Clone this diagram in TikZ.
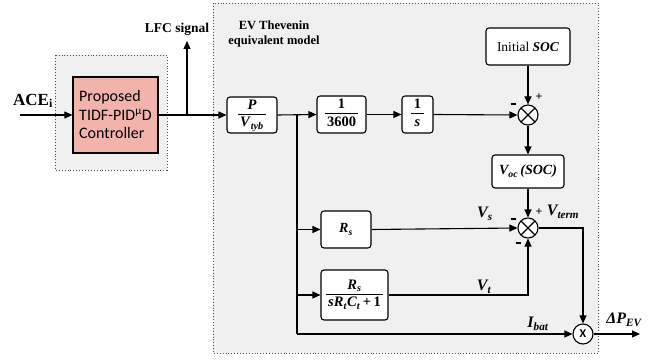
\documentclass[tikz,border=0pt]{standalone}
\usepackage{fontspec}
\setmainfont{Liberation Serif}
\newfontfamily\carlito{Carlito}
\usetikzlibrary{arrows.meta}
\definecolor{panel}{HTML}{F0F0F0}
\definecolor{pinkfill}{HTML}{F2B3AC}
\newcommand\fracbox[2]{\begin{tabular}{@{\,}c@{\,}}#1\\[0pt]\hline\rule{0pt}{12.5pt}#2\end{tabular}}
\newcommand\bi[1]{\textbf{\textit{#1}}}
\newcommand\minussign{\rule[0pt]{5pt}{1.4pt}}
\tikzset{
  blk/.style={draw, rounded corners=3pt, fill=white, line width=1.1pt, inner sep=1pt, align=center, font=\bfseries\fontsize{14.5}{15.5}\selectfont},
  sumc/.style={draw, circle, fill=white, line width=1.1pt, minimum size=20pt, inner sep=0pt,
    path picture={\draw[line width=1.1pt] (path picture bounding box.north west)--(path picture bounding box.south east)
      (path picture bounding box.north east)--(path picture bounding box.south west);}},
  multc/.style={draw, circle, fill=white, line width=1.1pt, minimum size=20pt, inner sep=0pt, font=\carlito\bfseries\fontsize{12}{12}\selectfont},
  con/.style={line width=1.1pt},
  arr/.style={line width=1.1pt, -{Triangle[length=8pt,width=7pt]}},
  panelbox/.style={draw=black!70, dotted, line width=0.9pt, fill=panel},
  lbl/.style={font=\bfseries\itshape\fontsize{16}{17}\selectfont, inner sep=0pt},
  sgn/.style={font=\bfseries\fontsize{12}{12}\selectfont, inner sep=0pt}
}
\begin{document}
\begin{tikzpicture}[x=1pt, y=-1pt]
\useasboundingbox (0,0) rectangle (654,361);
% panels
\draw[panelbox] (55,55) rectangle (167,170);
\draw[panelbox] (213,3) rectangle (598,353);
% controller
\node[draw, fill=pinkfill, line width=1.2pt, minimum width=85pt, minimum height=76pt, align=left,
  font=\carlito\fontsize{16}{18.5}\selectfont, inner sep=3pt] (ctrl) at (115.5,115)
  {Proposed\\TIDF-PID\textsuperscript{μ}D\\Controller};
\node[font=\bfseries\fontsize{17}{18}\selectfont, inner sep=0pt] (ace) at (33,101) {ACE\textsubscript{i}};
\coordinate (in) at (20,115);
\node[font=\bfseries\fontsize{13.5}{14}\selectfont, inner sep=0pt] (lfc) at (177,29) {LFC signal};
\node[font=\bfseries\fontsize{12.5}{15}\selectfont, align=center, inner sep=0pt] (evt) at (274,33.5) {EV Thevenin\\equivalent model};
% blocks
\node[blk, minimum width=50pt, minimum height=36pt] (pv) at (252,115) {\fracbox{\bi{P}}{\bi{V}\textsubscript{\bi{tyb}}}};
\node[blk, minimum width=49pt, minimum height=37pt] (k) at (341.5,114.5) {\fracbox{1}{3600}};
\node[blk, minimum width=31pt, minimum height=37pt] (int) at (417.5,114.5) {\fracbox{1}{\bi{s}}};
\node[blk, minimum width=84pt, minimum height=37pt, font=\fontsize{13.5}{14}\selectfont] (init) at (528,46.5) {Initial \bi{SOC}};
\node[blk, minimum width=72pt, minimum height=33pt, font=\bfseries\itshape\fontsize{14}{15}\selectfont] (voc) at (528,171.5) {V\textsubscript{oc}\,(SOC)};
\node[blk, minimum width=50pt, minimum height=37pt, font=\bfseries\itshape\fontsize{14}{15}\selectfont] (rs) at (346,229.5) {R\textsubscript{s}};
\node[blk, minimum width=67pt, minimum height=50pt] (rt) at (354.5,295) {\fracbox{\bi{R}\textsubscript{\bi{s}}}{\bi{sR}\textsubscript{\bi{t}}\bi{C}\textsubscript{\bi{t}}\,+\,1}};
\node[sumc] (s1) at (528,115) {};
\node[sumc] (s2) at (528,228) {};
\node[multc] (mul) at (583,334) {X};
% connectors
\coordinate (b0) at (187,115);
\coordinate (lfcend) at (187,41);
\coordinate (b1) at (297,115);
\coordinate (b2) at (297,229.5);
\coordinate (b3) at (297,295);
\coordinate (b4) at (297,334);
\coordinate (out) at (640,334);
\draw[arr] (in) -- (ctrl.west);
\draw[arr] (ctrl.east) -- (pv.west);
\draw[arr] (b0) -- (lfcend);
\draw[arr] (pv.east) -- (k.west);
\draw[arr] (k.east) -- (int.west);
\draw[arr] (int.east) -- (s1.west);
\draw[arr] (init.south) -- (s1.north);
\draw[arr] (s1.south) -- (voc.north);
\draw[arr] (voc.south) -- (s2.north);
\draw[con] (b1) -- (b4);
\draw[arr] (b2) -- (rs.west);
\draw[arr] (b3) -- (rt.west);
\draw[arr] (b4) -- (mul.west);
\draw[arr] (rs.east) -- (s2.west);
\draw[arr] (rt.east) -| (s2.south);
\draw[arr] (s2.east) -| (mul.north);
\draw[arr] (mul.east) -- (out);
% labels
\node[sgn] at (513,104) {\minussign};
\node[sgn] at (539,97) {+};
\node[sgn] at (513,219) {\minussign};
\node[sgn] at (539,212) {+};
\node[sgn] at (518,243) {\minussign};
\node[lbl] at (485,214) {V\textsubscript{s}};
\node[lbl] at (563,212) {V\textsubscript{term}};
\node[lbl] at (484,287) {V\textsubscript{t}};
\node[lbl] at (538,324) {I\textsubscript{bat}};
\node[lbl] at (624,320) {ΔP\textsubscript{EV}};
\end{tikzpicture}
\end{document}
